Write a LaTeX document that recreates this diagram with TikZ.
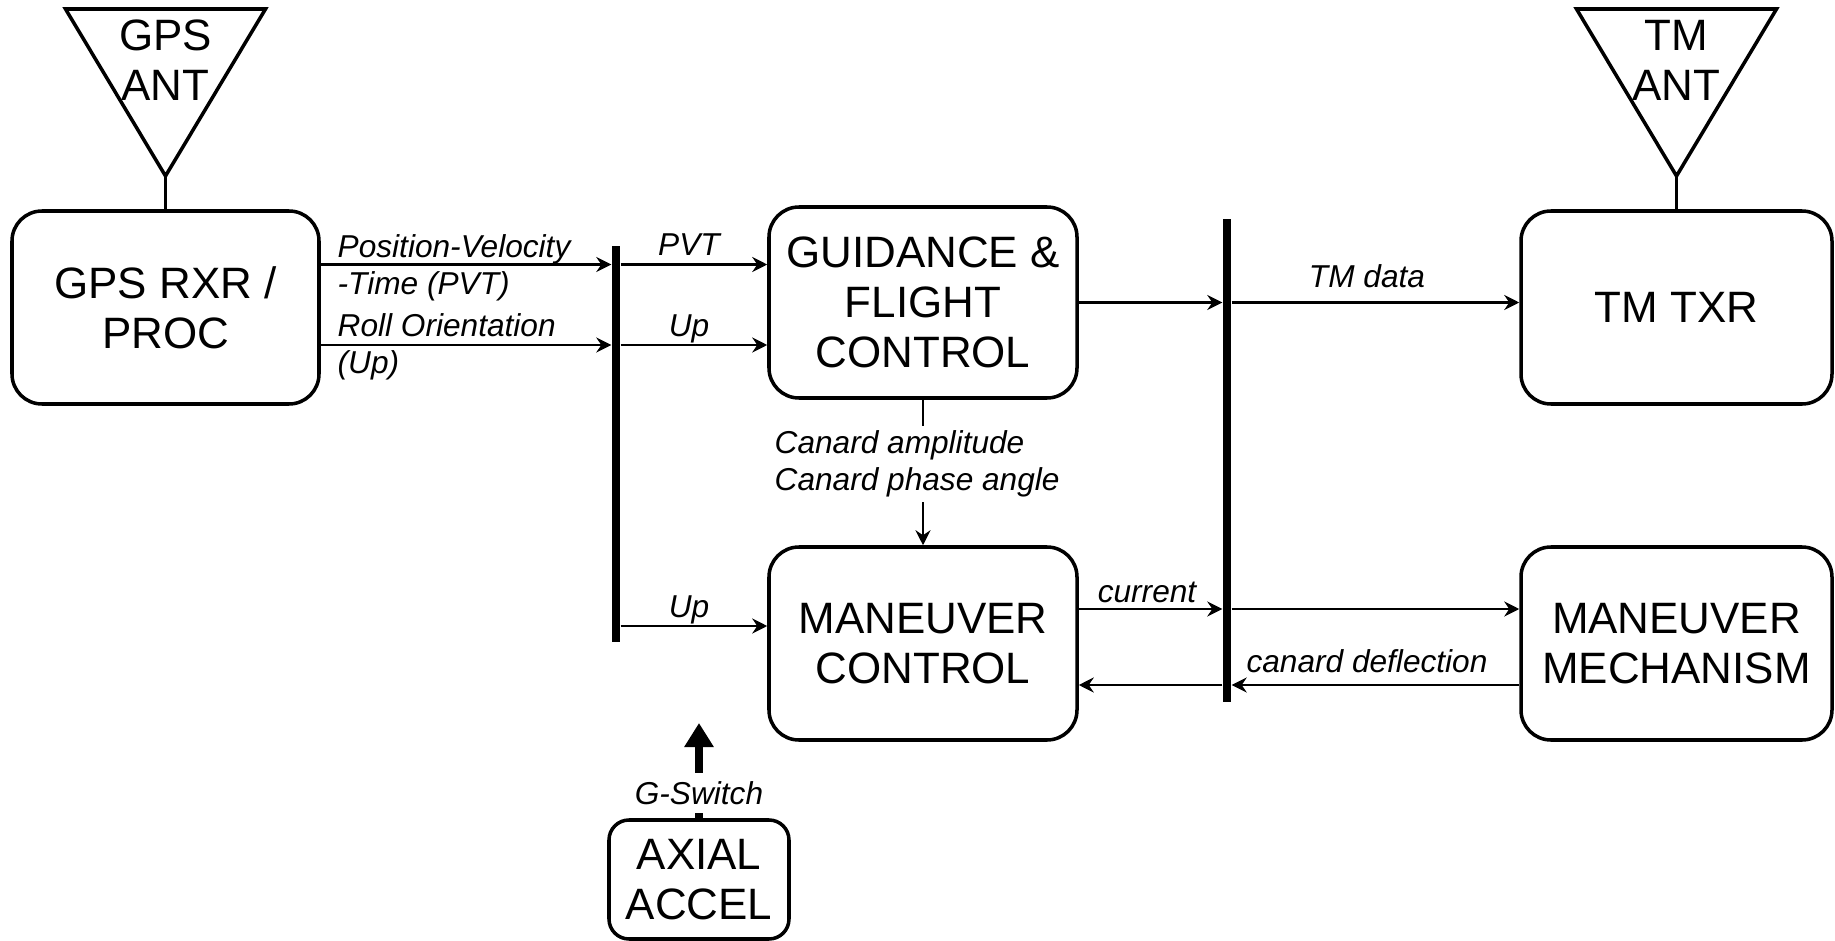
\documentclass[tikz,border=0pt]{standalone}
\usepackage{fontspec}
\setmainfont{Liberation Sans}
\usetikzlibrary{arrows.meta, positioning}

\begin{document}
\begin{tikzpicture}[
  >={Stealth[length=1.5mm, width=1.5mm, inset=0.5mm]},
  box/.style={draw, line width=1pt, rounded corners=3mm, align=center,
    inner sep=0pt, font=\fontsize{12.5}{14.2}\selectfont},
  anttext/.style={align=center, inner sep=0pt, font=\fontsize{12.5}{14.2}\selectfont},
  antenna/.style={draw, line width=1pt, line join=miter},
  bus/.style={fill, inner sep=0pt, minimum width=0.8mm},
  sig/.style={->, line width=0.75pt},
  gsw/.style={-{Triangle[length=2.4mm, width=2.8mm]}, line width=2.4pt},
  lbl/.style={inner sep=0pt, font=\fontsize{9}{10.6}\selectfont\itshape},
]

% Frame
\useasboundingbox (0,0) rectangle (18.35,-9.41);

% Rows of the signal lines
\coordinate (pvtrow) at (0,-2.645);
\coordinate (uprow) at (0,-3.45);
\coordinate (upmrow) at (0,-6.26);
\coordinate (currow) at (0,-6.09);
\coordinate (defrow) at (0,-6.85);

% --- Blocks ---
\node[box, minimum width=3.07cm, minimum height=1.93cm] (gpsrx) at (1.655,-3.075)
  {GPS RXR /\\PROC};
\node[box, minimum width=3.08cm, minimum height=1.91cm] (guid) at (9.23,-3.025)
  {GUIDANCE \&\\FLIGHT\\CONTROL};
\node[box, minimum width=3.08cm, minimum height=1.93cm] (mc) at (9.23,-6.435)
  {MANEUVER\\CONTROL};
\node[box, minimum width=3.11cm, minimum height=1.93cm] (tmtx) at (16.765,-3.075)
  {TM TXR};
\node[box, minimum width=3.11cm, minimum height=1.93cm] (mm) at (16.765,-6.435)
  {MANEUVER\\MECHANISM};
\node[box, rounded corners=2mm, minimum width=1.80cm, minimum height=1.19cm] (axial)
  at (6.99,-8.795) {AXIAL\\ACCEL};

% --- Antennas ---
\draw[antenna] (0.655,-0.09) -- (2.655,-0.09) -- (1.655,-1.76) coordinate (gpsapex) -- cycle;
\node[anttext] (gpsant) at (1.655,-0.60) {GPS\\ANT};
\draw[line width=0.8pt] (gpsapex) -- (gpsrx.north);

\draw[antenna] (15.765,-0.09) -- (17.765,-0.09) -- (16.765,-1.76) coordinate (tmapex) -- cycle;
\node[anttext] (tmant) at (16.765,-0.60) {TM\\ANT};
\draw[line width=0.8pt] (tmapex) -- (tmtx.north);

% --- Buses ---
\node[bus, minimum height=3.96cm] (bus1) at (6.16,-4.44) {};
\node[bus, minimum height=4.83cm] (bus2) at (12.27,-4.605) {};

% --- Signals ---
\draw[sig] (gpsrx.east |- pvtrow) -- (bus1.west |- pvtrow);
\draw[sig] (gpsrx.east |- uprow) -- (bus1.west |- uprow);
\draw[sig] (bus1.east |- pvtrow) -- (guid.west |- pvtrow);
\draw[sig] (bus1.east |- uprow) -- (guid.west |- uprow);
\draw[sig] (bus1.east |- upmrow) -- (mc.west |- upmrow);
\draw[sig] (guid.east) -- (bus2.west |- guid.east);
\draw[sig] (bus2.east |- guid.east) -- (tmtx.west |- guid.east);
\draw[sig] (mc.east |- currow) -- (bus2.west |- currow);
\draw[sig] (bus2.east |- currow) -- (mm.west |- currow);
\draw[sig] (mm.west |- defrow) -- (bus2.east |- defrow);
\draw[sig] (bus2.west |- defrow) -- (mc.east |- defrow);
\draw[sig] (guid.south) -- (mc.north);

% G-Switch
\coordinate (gtip) at (6.99,-7.23);
\draw[gsw] (axial.north) -- (gtip);

% --- Labels ---
\node[lbl, anchor=base west] (lpv) at (3.37,-2.57) {Position-Velocity};
\node[lbl, anchor=base west] (lpvt) at (3.37,-2.94) {-Time (PVT)};
\node[lbl, anchor=base west] (lroll) at (3.37,-3.36) {Roll Orientation};
\node[lbl, anchor=base west] (lup) at (3.37,-3.73) {(Up)};
\node[lbl, anchor=base] (lpvt2) at (6.89,-2.55) {PVT};
\node[lbl, anchor=base] (lup2) at (6.89,-3.36) {Up};
\node[lbl, anchor=base] (lup3) at (6.89,-6.17) {Up};
\node[lbl, anchor=base] (ltm) at (13.67,-2.87) {TM data};
\node[lbl, anchor=base] (lcur) at (11.47,-6.02) {current};
\node[lbl, anchor=base] (ldef) at (13.67,-6.72) {canard deflection};
\node[lbl, fill=white, align=left, anchor=west, inner xsep=0.3mm, inner ysep=0.5mm]
  (lcan) at (7.71,-4.64) {Canard amplitude\\Canard phase angle};
\node[lbl, fill=white, anchor=center, minimum height=4mm] (lgsw) at (6.99,-7.93) {G-Switch};

\end{tikzpicture}
\end{document}
